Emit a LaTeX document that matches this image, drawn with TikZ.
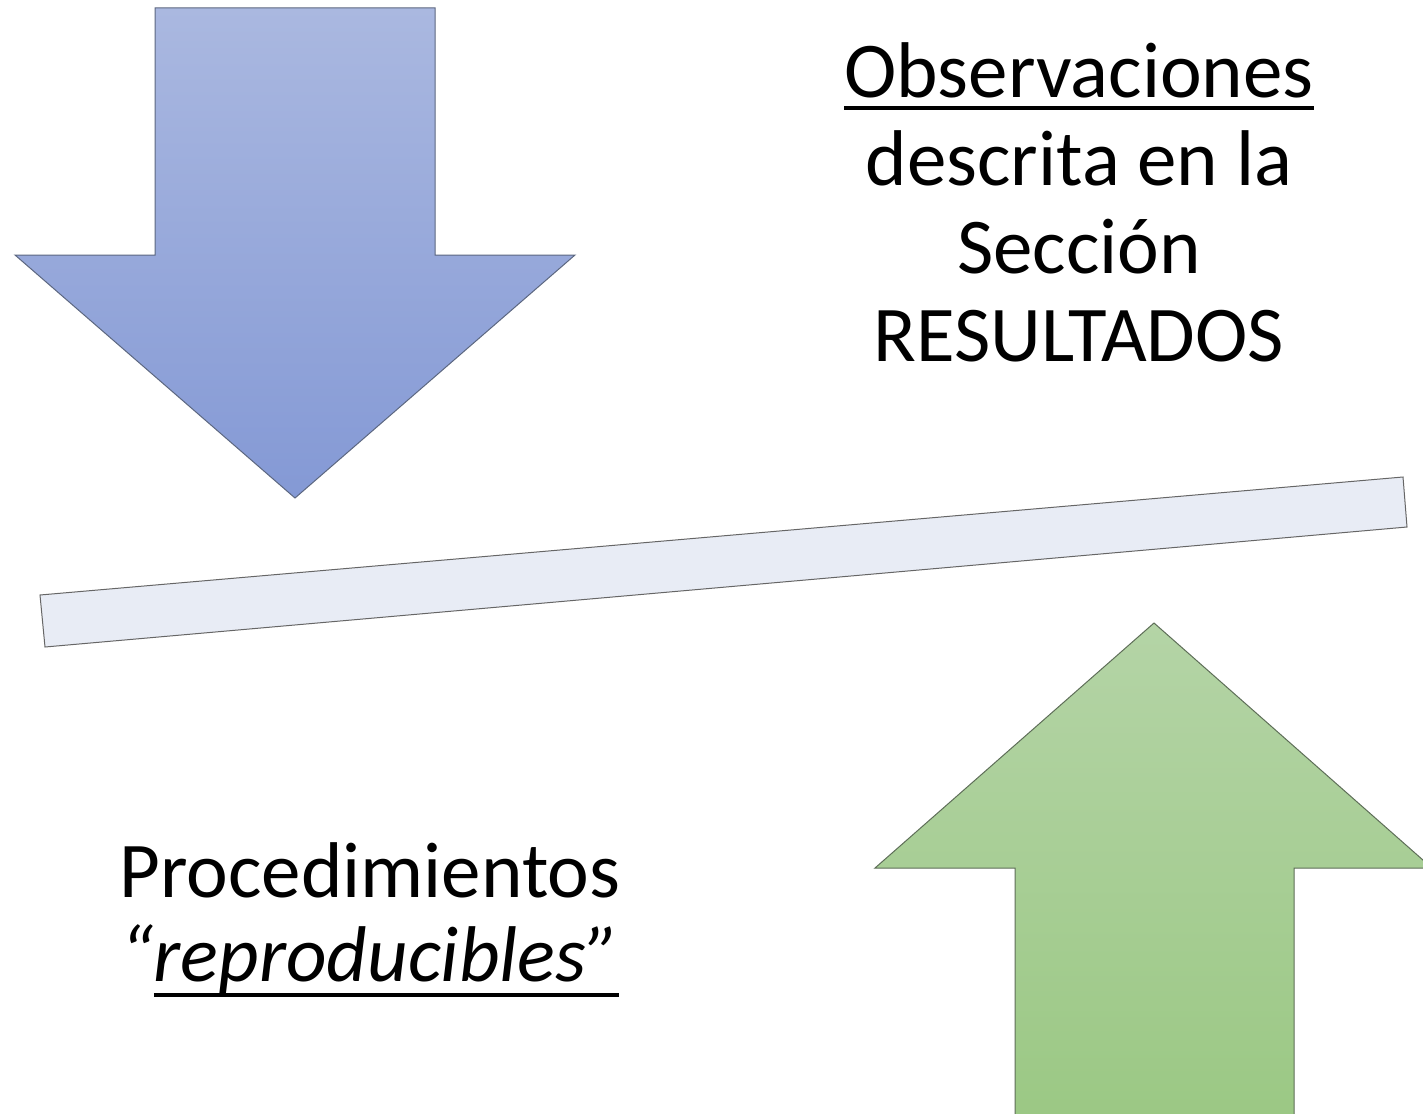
\documentclass[tikz,border=0pt]{standalone}
\usepackage{fontspec}
\setmainfont{Carlito}
\definecolor{blueTop}{HTML}{AAB8E0}
\definecolor{blueBot}{HTML}{8499D5}
\definecolor{greenTop}{HTML}{B4D4A6}
\definecolor{greenBot}{HTML}{9BC884}
\definecolor{barFill}{HTML}{E8ECF5}
\definecolor{edgeBlue}{HTML}{5C6780}
\definecolor{edgeGreen}{HTML}{5E6E58}
\newcommand{\myul}[2]{\setbox0\hbox{#2}\rlap{\rule[-#1]{\wd0}{4pt}}\box0}
\tikzset{
  shapeedge/.style={line width=1pt, line join=miter},
  bigtext/.style={align=center, inner sep=0pt, font=\fontsize{79}{88}\selectfont},
  lefttext/.style={align=center, inner sep=0pt, font=\fontsize{79}{84}\selectfont},
}

\begin{document}

\begin{tikzpicture}[x=1pt,y=-1pt]
\useasboundingbox (0,0) rectangle (1423,1113);
\fill[white] (0,0) rectangle (1423,1113);
\begin{scope}
\clip (0,0) rectangle (1423,1113);
% blue down arrow
\draw[shapeedge, draw=edgeBlue, top color=blueTop, bottom color=blueBot]
  (155,8) -- (435,8) -- (435,255) -- (575,255) -- (295,498) -- (15,255) -- (155,255) -- cycle;
% bar
\draw[shapeedge, draw=gray!80!black, fill=barFill]
  (40,595) -- (1403,477) -- (1407,527) -- (45,647) -- cycle;
% green up arrow
\draw[shapeedge, draw=edgeGreen, top color=greenTop, bottom color=greenBot]
  (1154,623) -- (1432,868) -- (1294,868) -- (1294,1120) -- (1015,1120) -- (1015,868) -- (875,868) -- cycle;
\end{scope}
\node[bigtext] (obs) at (1079,202) {\myul{13pt}{Observaciones}\\descrita en la\\Sección\\RESULTADOS};
\node[lefttext] (proc) at (370,920) {Procedimientos\\{\itshape “\myul{16pt}{reproducibles”}}};
\end{tikzpicture}

\end{document}
